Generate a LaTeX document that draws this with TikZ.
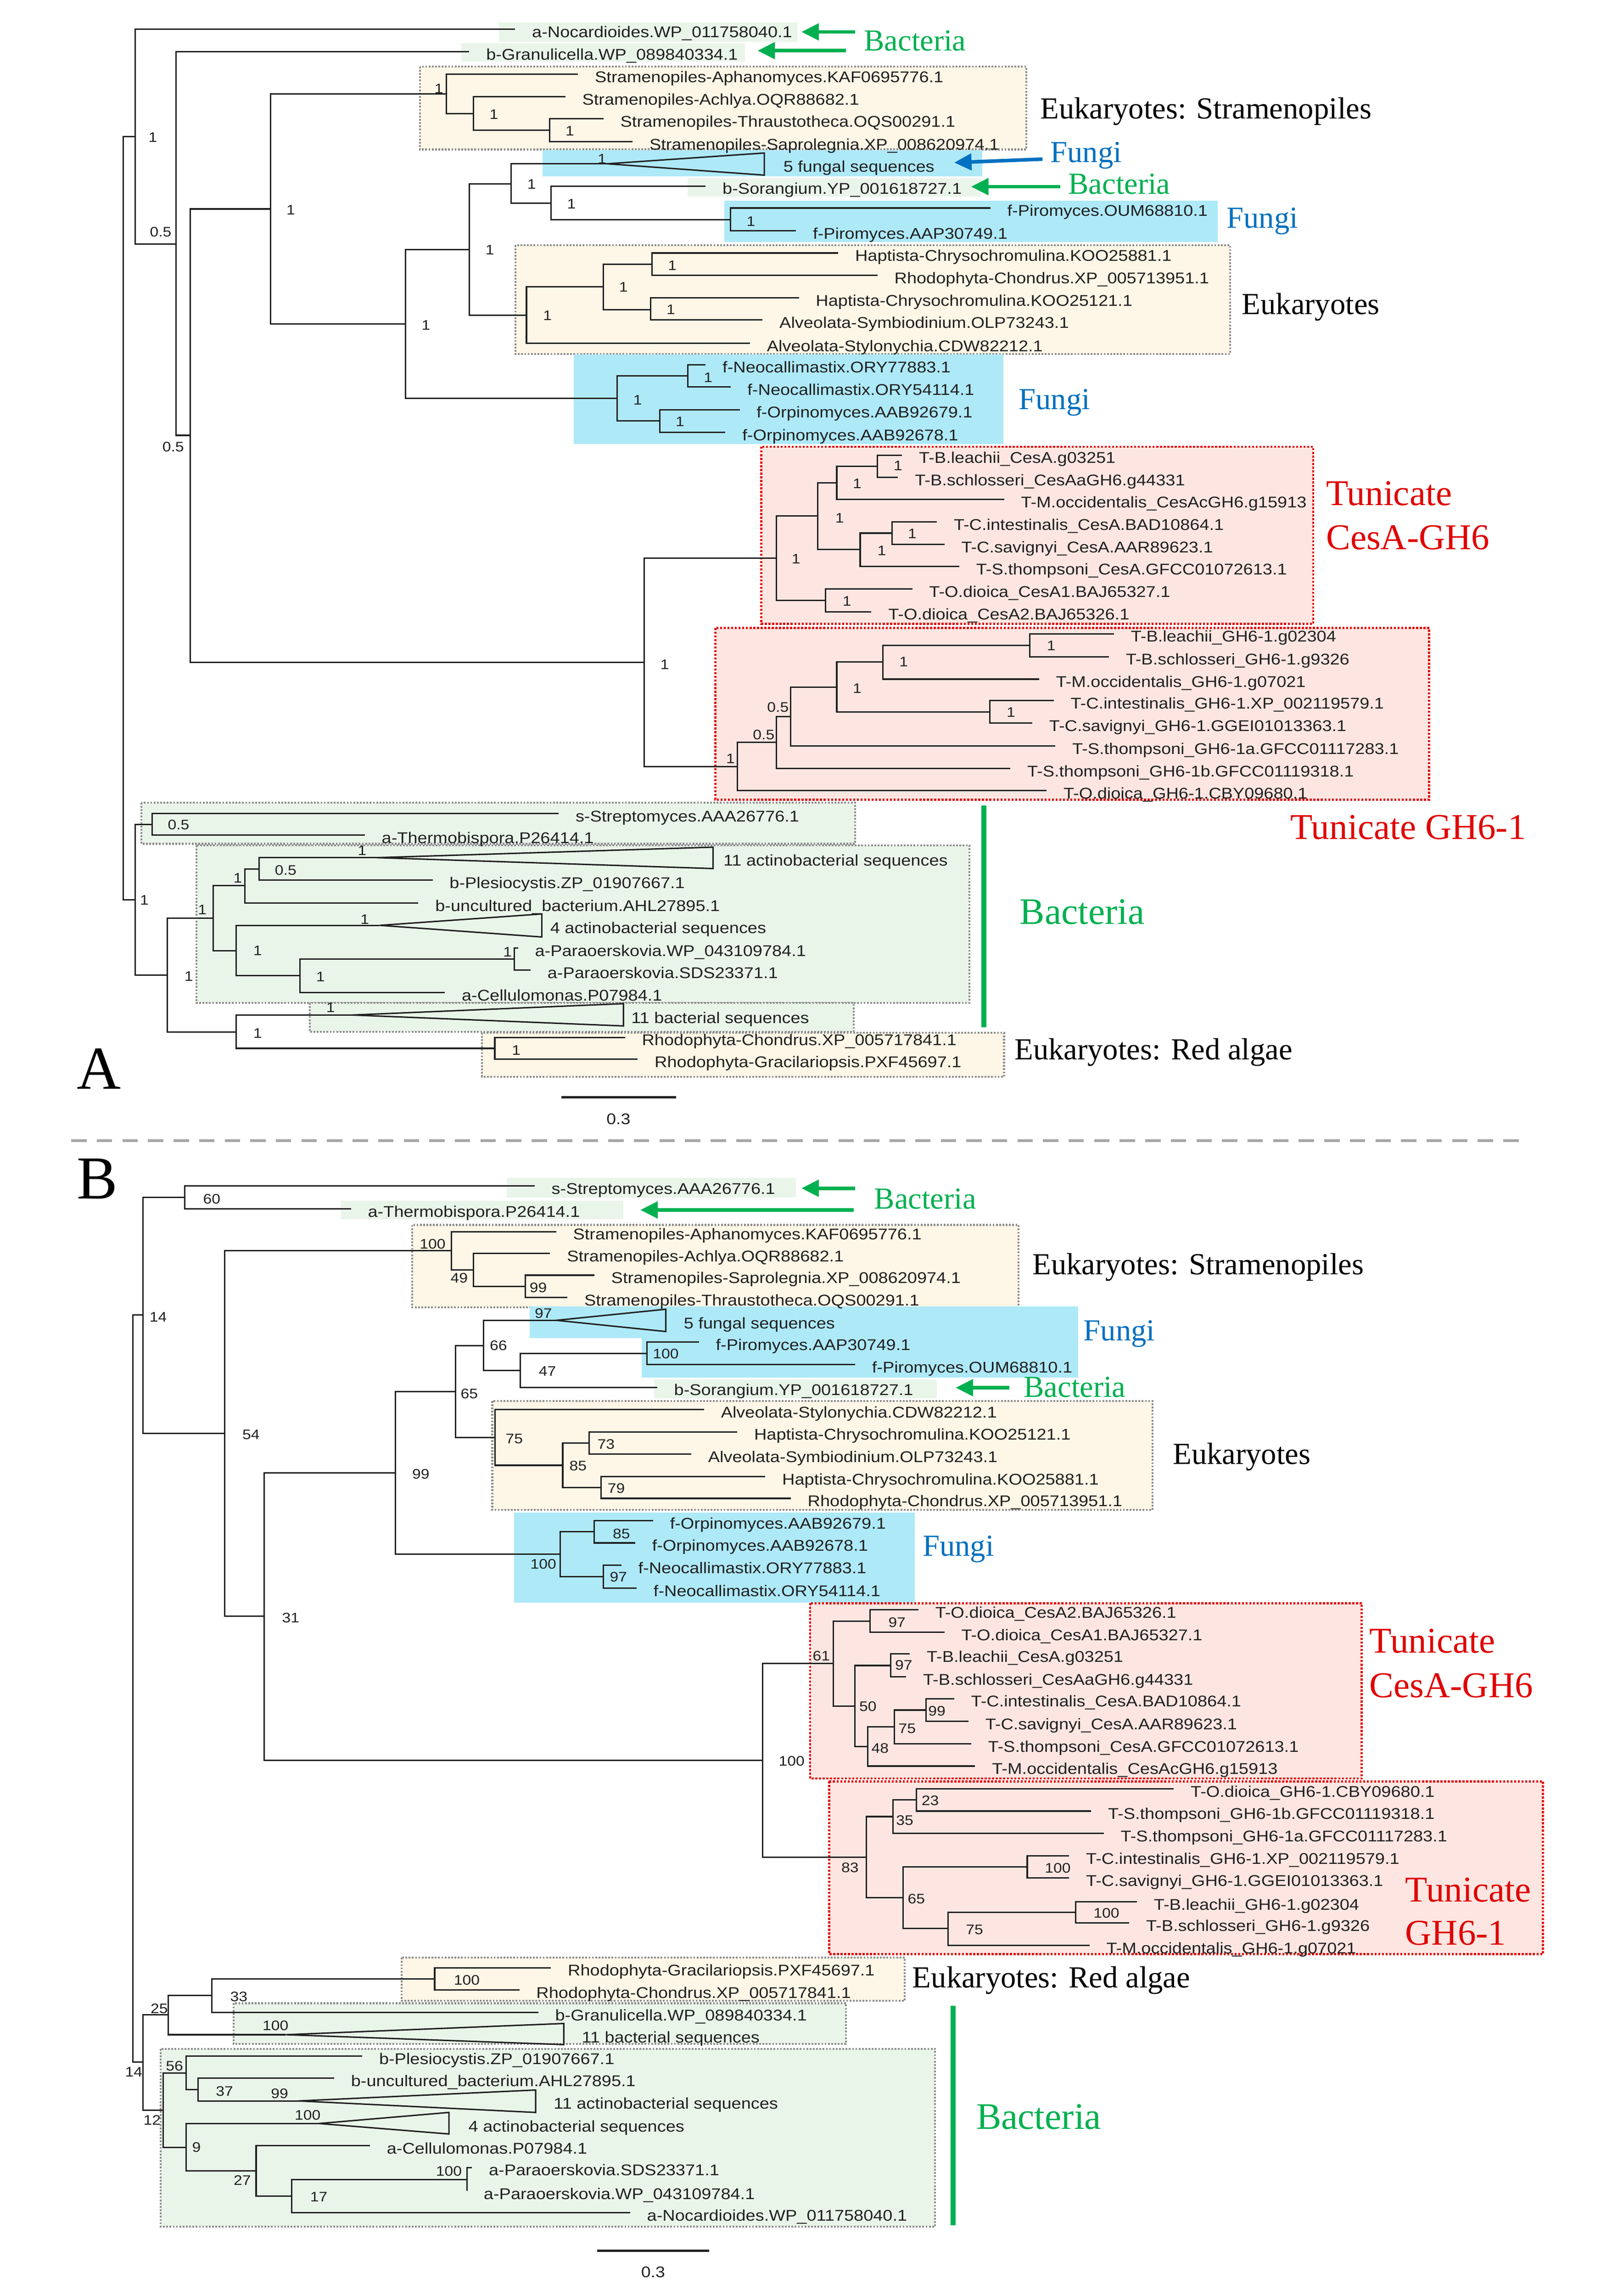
\documentclass[tikz,border=0pt]{standalone}
\usepackage{fontspec}
\setmainfont{Liberation Serif}
\newfontfamily\leaffam[FakeStretch=1.12]{Liberation Sans}
\usetikzlibrary{arrows.meta}
\definecolor{cyel}{HTML}{FEF6E6}
\definecolor{cgrn}{HTML}{EAF5EA}
\definecolor{cblu}{HTML}{AEE9F8}
\definecolor{cpnk}{HTML}{FDE6E1}
\definecolor{tgrn}{HTML}{00B050}
\definecolor{tblu}{HTML}{0070C0}
\definecolor{tred}{HTML}{E00000}
\definecolor{ink}{HTML}{202020}
\definecolor{dotc}{HTML}{8C8C8C}
\newcommand\leafsize{\leaffam\fontsize{15.2pt}{18pt}\selectfont}
\newcommand\supsize{\leaffam\fontsize{13.5pt}{16pt}\selectfont}
\newcommand\bigsize{\fontsize{29.9pt}{32pt}\selectfont}
\newcommand\tunsize{\fontsize{35.5pt}{38pt}\selectfont}
\newcommand\bacsize{\fontsize{36.6pt}{39pt}\selectfont}
\newcommand\pansize{\fontsize{59.7pt}{62pt}\selectfont}
\tikzset{
  br/.style={line width=1.4pt, draw=ink},
  lab0/.style={font=\leafsize, anchor=base west, inner sep=0pt, yshift=-0.28cm, text=ink},
  lab/.style={lab0, xshift=0.575cm},
  sup/.style={font=\supsize, inner sep=0pt, text=ink},
  dotgray/.style={draw=dotc, line width=1.9pt, dash pattern=on 1.7pt off 1.5pt},
  ybox/.style={fill=cyel, dotgray},
  gbox/.style={fill=cgrn, dotgray},
  gfill/.style={fill=cgrn, draw=none},
  bfill/.style={fill=cblu, draw=none},
  pbox/.style={fill=cpnk, draw=tred, line width=2.2pt, dash pattern=on 2pt off 1.6pt},
  big/.style={anchor=west, inner sep=0pt, font=\bigsize},
  garr/.style={draw=tgrn, line width=3.5pt, -{Triangle[length=17pt,width=16pt]}},
  barr/.style={draw=tblu, line width=3.5pt, -{Triangle[length=17pt,width=16pt]}},
  gbar/.style={draw=tgrn, line width=5pt},
  scalebar/.style={draw=ink, line width=2.2pt},
}
\newcommand\Int[4]{\coordinate (#1) at (#3,#4); \draw[br] (#2) |- (#1);}
\newcommand\Leaf[5]{\coordinate (#1) at (#3,#4); \draw[br] (#2) |- (#1); \node[lab] (#1t) at (#1) {#5};}
\newcommand\Tri[9]{\coordinate (#1) at (#3,#4); \draw[br] (#2) |- (#1);
  \coordinate (#1u) at (#5,#6); \coordinate (#1d) at (#5,#7);
  \draw[br] (#1) -- (#1u) -- (#1d) -- cycle; \node[lab0] (#1t) at (#8,#4) {#9};}
\newcommand\Sup[4]{\node[sup] (#1) at (#2,#3) {#4};}
\begin{document}
\begin{tikzpicture}[x=0.05cm, y=-0.05cm]
\fill[white] (0,0) rectangle (1100,1577.1);
\useasboundingbox (0,0) rectangle (1100,1577.1);

%================ PANEL A: boxes ================
\path[gfill] (343,15.6) rectangle (548,28.7);
\path[gfill] (317,29.6) rectangle (512,42.4);
\path[ybox] (288.5,45.7) rectangle (705.2,102.7);
\path[bfill] (372.7,103.2) rectangle (675,121.2);
\path[gfill] (472.6,122.4) rectangle (674.3,135);
\path[bfill] (497.8,137.7) rectangle (836.8,166.2);
\path[ybox] (354.1,168.4) rectangle (845.2,243.1);
\path[bfill] (394.4,243.6) rectangle (689.4,304.9);
\path[pbox] (523.1,306.9) rectangle (902.4,428.4);
\path[pbox] (491.5,431.4) rectangle (982.1,549.2);
\path[gbox] (97.1,551.3) rectangle (587.6,579.6);
\path[gbox] (135,580.6) rectangle (666.2,688.9);
\path[gbox] (212.8,688.9) rectangle (586.6,708.8);
\path[ybox] (331.3,709.3) rectangle (690,739.6);

%================ PANEL A: tree ================
\coordinate (rA) at (84.8,356);
\Int{N1}{rA}{92.9}{93.8}
\Leaf{Noc}{N1}{354}{20}{a-Nocardioides.WP\_011758040.1}
\Int{N2}{N1}{121}{167.6}
\Leaf{Gra}{N2}{322.5}{35.5}{b-Granulicella.WP\_089840334.1}
\Int{N3}{N2}{130.8}{299}
\Int{N4}{N3}{185.8}{143.5}
\Int{ST1}{N4}{306.8}{64.4}
\Leaf{Aph}{ST1}{397.2}{50.9}{Stramenopiles-Aphanomyces.KAF0695776.1}
\Int{ST2}{ST1}{325.3}{78}
\Leaf{Ach}{ST2}{388.5}{66.5}{Stramenopiles-Achlya.OQR88682.1}
\Int{ST3}{ST2}{377.6}{89.5}
\Leaf{Thr}{ST3}{414.7}{81.6}{Stramenopiles-Thraustotheca.OQS00291.1}
\Leaf{Sap}{ST3}{434.7}{97.3}{Stramenopiles-Saprolegnia.XP\_008620974.1}
\Int{N5}{N4}{278.7}{222.4}
\Int{N6}{N5}{322.5}{171.3}
\Int{N7}{N6}{351.3}{126.2}
\Tri{FuA}{N7}{417.2}{112.5}{525.2}{105.1}{120.3}{538.2}{5 fungal sequences}
\Int{N8}{N7}{378.6}{139.6}
\Leaf{SorA}{N8}{484.9}{127.8}{b-Sorangium.YP\_001618727.1}
\Int{PiA}{N8}{502}{150.8}
\Leaf{PiOA}{PiA}{680.6}{142.9}{f-Piromyces.OUM68810.1}
\Leaf{PiAA}{PiA}{547}{158.5}{f-Piromyces.AAP30749.1}
\Int{E1}{N6}{361.8}{216.5}
\Int{E2}{E1}{414.7}{197.1}
\Int{E3}{E2}{448}{181.5}
\Leaf{HkaA}{E3}{576}{173.8}{Haptista-Chrysochromulina.KOO25881.1}
\Leaf{RchA}{E3}{603}{189.2}{Rhodophyta-Chondrus.XP\_005713951.1}
\Int{E4}{E2}{447}{212.7}
\Leaf{HkbA}{E4}{549}{204.5}{Haptista-Chrysochromulina.KOO25121.1}
\Leaf{AsyA}{E4}{524}{219.8}{Alveolata-Symbiodinium.OLP73243.1}
\Leaf{AstA}{E1}{515.4}{235.7}{Alveolata-Stylonychia.CDW82212.1}
\Int{F1}{N5}{424.2}{273.7}
\Int{F2}{F1}{472.6}{258.2}
\Leaf{NeaA}{F2}{484.9}{250.5}{f-Neocallimastix.ORY77883.1}
\Leaf{NebA}{F2}{502}{265.8}{f-Neocallimastix.ORY54114.1}
\Int{F3}{F1}{453.3}{289.2}
\Leaf{OraA}{F3}{508.3}{281.4}{f-Orpinomyces.AAB92679.1}
\Leaf{OrbA}{F3}{498.5}{297}{f-Orpinomyces.AAB92678.1}
% tunicates
\Int{T0}{N3}{442.8}{455}
\Int{TC1}{T0}{533.6}{383.5}
\Int{TC2}{TC1}{562}{354.5}
\Int{TC3}{TC2}{575}{331.6}
\Int{TC4}{TC3}{603}{320.2}
\Leaf{tca}{TC4}{619.9}{312.6}{T-B.leachii\_CesA.g03251}
\Leaf{tcb}{TC4}{617.1}{327.9}{T-B.schlosseri\_CesAaGH6.g44331}
\Leaf{tcc}{TC3}{690}{343}{T-M.occidentalis\_CesAcGH6.g15913}
\Int{TC5}{TC2}{591.1}{377.5}
\Int{TC6}{TC5}{612.9}{366.2}
\Leaf{tcd}{TC6}{643.8}{358.6}{T-C.intestinalis\_CesA.BAD10864.1}
\Leaf{tce}{TC6}{649}{373.9}{T-C.savignyi\_CesA.AAR89623.1}
\Leaf{tcf}{TC5}{659.2}{389}{T-S.thompsoni\_CesA.GFCC01072613.1}
\Int{TC7}{TC1}{567.3}{412.4}
\Leaf{tcg}{TC7}{626.9}{404.6}{T-O.dioica\_CesA1.BAJ65327.1}
\Leaf{tch}{TC7}{598.8}{420.2}{T-O.dioica\_CesA2.BAJ65326.1}
\Int{TG1}{T0}{506.6}{526.5}
\Int{TG2}{TG1}{533.6}{510}
\Int{TG3}{TG2}{543.4}{492.1}
\Int{TG4}{TG3}{575}{471.9}
\Int{TG5}{TG4}{606.6}{454.8}
\Int{TG6}{TG5}{707.6}{443.2}
\Leaf{tga}{TG6}{765.5}{435.3}{T-B.leachii\_GH6-1.g02304}
\Leaf{tgb}{TG6}{762}{451.1}{T-B.schlosseri\_GH6-1.g9326}
\Leaf{tgc}{TG5}{714}{466.5}{T-M.occidentalis\_GH6-1.g07021}
\Int{TG7}{TG4}{680.3}{489}
\Leaf{tgd}{TG7}{724.1}{481.3}{T-C.intestinalis\_GH6-1.XP\_002119579.1}
\Leaf{tge}{TG7}{709.4}{496.6}{T-C.savignyi\_GH6-1.GGEI01013363.1}
\Leaf{tgf}{TG3}{725.2}{512.4}{T-S.thompsoni\_GH6-1a.GFCC01117283.1}
\Leaf{tgg}{TG2}{694.3}{527.8}{T-S.thompsoni\_GH6-1b.GFCC01119318.1}
\Leaf{tgh}{TG1}{719.2}{543}{T-O.dioica\_GH6-1.CBY09680.1}
% bacteria
\Int{B1}{rA}{92.9}{618}
\Int{SA}{B1}{104.5}{566.2}
\Leaf{StrA}{SA}{383.9}{558.7}{s-Streptomyces.AAA26776.1}
\Leaf{TheA}{SA}{250.7}{573.6}{a-Thermobispora.P26414.1}
\Int{B2}{B1}{115}{669.7}
\Int{B3}{B2}{146.5}{630.6}
\Int{B4}{B3}{168.3}{608.4}
\Int{B5}{B4}{178.1}{596.9}
\Tri{AcA}{B5}{259}{589.1}{490}{581.9}{596.6}{497}{11 actinobacterial sequences}
\Leaf{PleA}{B5}{297.3}{604.6}{b-Plesiocystis.ZP\_01907667.1}
\Leaf{UncA}{B4}{287.5}{620.2}{b-uncultured\_bacterium.AHL27895.1}
\Int{B6}{B3}{162.3}{653.1}
\Tri{Ac4A}{B6}{261}{635.6}{372.3}{627.8}{643.6}{378}{4 actinobacterial sequences}
\Int{B7}{B6}{206.1}{670}
\Int{B8}{B7}{353.4}{658.8}
\Leaf{ParaA}{B8}{356}{651.1}{a-Paraoerskovia.WP\_043109784.1}
\Leaf{ParbA}{B8}{364.6}{666.4}{a-Paraoerskovia.SDS23371.1}
\Leaf{CelA}{B7}{305.7}{681.7}{a-Cellulomonas.P07984.1}
\Int{B9}{B2}{162.3}{708.8}
\Tri{BsA}{B9}{242}{697.2}{428.4}{689.4}{704.7}{433.7}{11 bacterial sequences}
\Int{RA}{B9}{340}{720.1}
\Leaf{RhcA}{RA}{429.5}{712.6}{Rhodophyta-Chondrus.XP\_005717841.1}
\Leaf{RhgA}{RA}{438.2}{727.6}{Rhodophyta-Gracilariopsis.PXF45697.1}

% supports A
\Sup{sN1}{105}{94.5}{1}
\Sup{sN2}{110.4}{159.4}{0.5}
\Sup{sN3}{119}{306.8}{0.5}
\Sup{sN4}{199.8}{144.2}{1}
\Sup{sST1}{301.5}{60.8}{1}
\Sup{sST2}{339.4}{78.5}{1}
\Sup{sST3}{391.6}{90}{1}
\Sup{sN5}{292.7}{223.4}{1}
\Sup{sN6}{336.6}{171.7}{1}
\Sup{sN7}{365.3}{126.5}{1}
\Sup{sFuA}{413.7}{109.2}{1}
\Sup{sN8}{392.7}{140.1}{1}
\Sup{sPiA}{516}{152}{1}
\Sup{sE1}{376.2}{216.8}{1}
\Sup{sE2}{428.4}{197.1}{1}
\Sup{sE3}{462}{182.3}{1}
\Sup{sE4}{461}{212.7}{1}
\Sup{sF1}{438.2}{274.8}{1}
\Sup{sF2}{486.6}{259.2}{1}
\Sup{sF3}{467.3}{289.6}{1}
\Sup{sT0}{456.8}{456.3}{1}
\Sup{sTC1}{547}{384}{1}
\Sup{sTC2}{577}{355.8}{1}
\Sup{sTC3}{589}{332.3}{1}
\Sup{sTC4}{617.1}{320}{1}
\Sup{sTC5}{605.9}{378.3}{1}
\Sup{sTC6}{626.9}{366.5}{1}
\Sup{sTC7}{582}{412.8}{1}
\Sup{sTG1}{502}{521}{1}
\Sup{sTG2}{524.8}{504.8}{0.5}
\Sup{sTG3}{534.6}{485.9}{0.5}
\Sup{sTG4}{589}{472.8}{1}
\Sup{sTG5}{621}{454.7}{1}
\Sup{sTG6}{722.4}{443.5}{1}
\Sup{sTG7}{694.7}{489.2}{1}
\Sup{sB1}{99.2}{618.2}{1}
\Sup{sSA}{122.7}{566.6}{0.5}
\Sup{sB2}{129.7}{670.6}{1}
\Sup{sB3}{139}{624.8}{1}
\Sup{sB4}{163.4}{603.2}{1}
\Sup{sB5}{196.3}{597.7}{0.5}
\Sup{sAcA}{248.9}{584.1}{1}
\Sup{sB6}{177}{653.1}{1}
\Sup{sAc4A}{250.7}{631.5}{1}
\Sup{sB7}{220.2}{670.9}{1}
\Sup{sB8}{348.8}{653.9}{1}
\Sup{sB9}{177}{709.6}{1}
\Sup{sBsA}{227.2}{692.2}{1}
\Sup{sRA}{354.8}{721.3}{1}

% labels A
\node[big, text=tgrn] (lBacA1) at (593.6,27.9) {Bacteria};
\node[big] (lStrA) at (714.7,76.4) {Eukaryotes: Stramenopiles};
\node[big, text=tblu] (lFunA1) at (721.7,106.8) {Fungi};
\node[big, text=tgrn] (lBacA2) at (734,126.5) {Bacteria};
\node[big, text=tblu] (lFunA2) at (842.8,152) {Fungi};
\node[big] (lEukA) at (853.3,211) {Eukaryotes};
\node[big, text=tblu] (lFunA3) at (699.9,276.5) {Fungi};
\node[big, text=tred, font=\tunsize] (lTunA1) at (911.2,338.9) {Tunicate};
\node[big, text=tred, font=\tunsize] (lCesA) at (911.2,369.3) {CesA-GH6};
\node[big, text=tred, font=\tunsize] (lTunA2) at (886.6,568.3) {Tunicate GH6-1};
\node[big, text=tgrn, font=\bacsize] (lBacA3) at (700.6,626.5) {Bacteria};
\node[big] (lRedA) at (697.1,722.9) {Eukaryotes: Red algae};
\node[anchor=base west, inner sep=0pt, font=\pansize] (panA) at (52.6,747.9) {A};

% arrows A
\coordinate (aA1s) at (587.6,21.9); \coordinate (aA1e) at (550.7,21.9);
\draw[garr] (aA1s) -- (aA1e);
\coordinate (aA2s) at (581.3,34.8); \coordinate (aA2e) at (520.6,34.8);
\draw[garr] (aA2s) -- (aA2e);
\coordinate (aA3s) at (716.4,109.3); \coordinate (aA3e) at (655.7,111.7);
\draw[barr] (aA3s) -- (aA3e);
\coordinate (aA4s) at (728.7,128.2); \coordinate (aA4e) at (667.3,128.2);
\draw[garr] (aA4s) -- (aA4e);
\coordinate (gbA1) at (676.1,553.3); \coordinate (gbA2) at (676.1,705.5);
\draw[gbar] (gbA1) -- (gbA2);
% scale A
\coordinate (scA1) at (385.6,753.7); \coordinate (scA2) at (464.5,753.7);
\draw[scalebar] (scA1) -- (scA2);
\node[sup, font=\leaffam\fontsize{15pt}{17pt}\selectfont] (scAt) at (425,768.7) {0.3};

% divider
\coordinate (dv1) at (49,783.5); \coordinate (dv2) at (1044.6,783.5);
\draw[draw=gray!70, line width=2.4pt, dash pattern=on 15pt off 10pt] (dv1) -- (dv2);

%================ PANEL B: boxes ================
\path[gfill] (348.1,809) rectangle (547,822.6);
\path[gfill] (234.2,824.8) rectangle (428.4,837.4);
\path[ybox] (283.3,841.4) rectangle (699.9,898.1);
\path[bfill] (363.9,897.5) rectangle (741,919);
\path[bfill] (441,918.5) rectangle (741,946.1);
\path[gfill] (449.5,947.4) rectangle (643.8,960.5);
\path[ybox] (338.3,962.3) rectangle (791.9,1037.2);
\path[bfill] (353.4,1038.9) rectangle (628.7,1100.7);
\path[pbox] (556.7,1101.2) rectangle (935.8,1221.6);
\path[pbox] (569.7,1223.6) rectangle (1060.4,1342.2);
\path[ybox] (275.9,1344.7) rectangle (621.7,1374.2);
\path[gbox] (160.6,1376) rectangle (581.3,1404);
\path[gbox] (110.4,1407.3) rectangle (642.6,1529.4);

%================ PANEL B: tree ================
\coordinate (rB) at (91.2,1159.7);
\Int{bN1}{rB}{98.2}{903.1}
\Int{bS}{bN1}{126.9}{822.5}
\Leaf{bStr}{bS}{367.4}{814.6}{s-Streptomyces.AAA26776.1}
\Leaf{bThe}{bS}{241.2}{830.3}{a-Thermobispora.P26414.1}
\Int{bN2}{bN1}{154.3}{984.5}
\Int{bST1}{bN2}{310.3}{858.9}
\Leaf{bAph}{bST1}{382.2}{846}{Stramenopiles-Aphanomyces.KAF0695776.1}
\Int{bST2}{bST1}{325.3}{872.4}
\Leaf{bAch}{bST2}{378}{860.9}{Stramenopiles-Achlya.OQR88682.1}
\Int{bST3}{bST2}{361.1}{883.6}
\Leaf{bSap}{bST3}{408.4}{875.9}{Stramenopiles-Saprolegnia.XP\_008620974.1}
\Leaf{bThr}{bST3}{389.9}{891.2}{Stramenopiles-Thraustotheca.OQS00291.1}
\Int{bN3}{bN2}{181.6}{1110.2}
\Int{bN4}{bN3}{271.7}{1011.6}
\Int{bN5}{bN4}{313.1}{955.8}
\Int{bN6}{bN5}{332.4}{924.2}
\Tri{bFu}{bN6}{382.2}{906.9}{457.5}{899.3}{914.6}{469.8}{5 fungal sequences}
\Int{bN7}{bN6}{357.6}{941.4}
\Int{bPi}{bN7}{444.6}{929.6}
\Leaf{bPiA}{bPi}{480.3}{921.9}{f-Piromyces.AAP30749.1}
\Leaf{bPiO}{bPi}{587.6}{937.2}{f-Piromyces.OUM68810.1}
\Leaf{bSor}{bN7}{451.6}{952.9}{b-Sorangium.YP\_001618727.1}
\Int{bE1}{bN5}{340.1}{987.3}
\Leaf{bAst}{bE1}{483.8}{968.2}{Alveolata-Stylonychia.CDW82212.1}
\Int{bE2}{bE1}{386.7}{1006.5}
\Int{bE3}{bE2}{404.9}{991.2}
\Leaf{bHkb}{bE3}{506.6}{983.5}{Haptista-Chrysochromulina.KOO25121.1}
\Leaf{bAsy}{bE3}{475}{998.9}{Alveolata-Symbiodinium.OLP73243.1}
\Int{bE4}{bE2}{413}{1021.7}
\Leaf{bHka}{bE4}{525.9}{1014.2}{Haptista-Chrysochromulina.KOO25881.1}
\Leaf{bRch}{bE4}{543.4}{1029.2}{Rhodophyta-Chondrus.XP\_005713951.1}
\Int{bF1}{bN4}{385}{1067.6}
\Int{bF2}{bF1}{408.4}{1052.2}
\Leaf{bOra}{bF2}{448.8}{1044.5}{f-Orpinomyces.AAB92679.1}
\Leaf{bOrb}{bF2}{436.5}{1059.8}{f-Orpinomyces.AAB92678.1}
\Int{bF3}{bF1}{414.7}{1083}
\Leaf{bNea}{bF3}{427}{1075.2}{f-Neocallimastix.ORY77883.1}
\Leaf{bNeb}{bF3}{437.5}{1090.8}{f-Neocallimastix.ORY54114.1}
% tunicates B
\Int{bT0}{bN3}{524.1}{1209.2}
\Int{bTC1}{bT0}{572.5}{1142.6}
\Int{bTC2}{bTC1}{597.8}{1113.5}
\Leaf{btca}{bTC2}{631.1}{1105.8}{T-O.dioica\_CesA2.BAJ65326.1}
\Leaf{btcb}{bTC2}{649}{1121.1}{T-O.dioica\_CesA1.BAJ65327.1}
\Int{bTC3}{bTC1}{587.6}{1171.8}
\Int{bTC4}{bTC3}{612.2}{1144}
\Leaf{btcc}{bTC4}{625.2}{1136.1}{T-B.leachii\_CesA.g03251}
\Leaf{btcd}{bTC4}{622.7}{1151.8}{T-B.schlosseri\_CesAaGH6.g44331}
\Int{bTC5}{bTC3}{596.4}{1199.6}
\Int{bTC6}{bTC5}{614.6}{1186.1}
\Int{bTC7}{bTC6}{636.4}{1174.6}
\Leaf{btce}{bTC7}{655.7}{1166.8}{T-C.intestinalis\_CesA.BAD10864.1}
\Leaf{btcf}{bTC7}{665.5}{1182.4}{T-C.savignyi\_CesA.AAR89623.1}
\Leaf{btcg}{bTC6}{667.3}{1197.8}{T-S.thompsoni\_CesA.GFCC01072613.1}
\Leaf{btch}{bTC5}{670.1}{1213.1}{T-M.occidentalis\_CesAcGH6.g15913}
\Int{bG1}{bT0}{595.3}{1275.7}
\Int{bG2}{bG1}{613.6}{1247.8}
\Int{bG3}{bG2}{629.7}{1236.4}
\Leaf{btga}{bG3}{806.6}{1228.7}{T-O.dioica\_GH6-1.CBY09680.1}
\Leaf{btgb}{bG3}{749.8}{1244}{T-S.thompsoni\_GH6-1b.GFCC01119318.1}
\Leaf{btgc}{bG2}{758.5}{1259.4}{T-S.thompsoni\_GH6-1a.GFCC01117283.1}
\Int{bG4}{bG1}{620.6}{1303.4}
\Int{bG5}{bG4}{705.9}{1282.3}
\Leaf{btgd}{bG5}{734.7}{1274.7}{T-C.intestinalis\_GH6-1.XP\_002119579.1}
\Leaf{btge}{bG5}{734.7}{1290}{T-C.savignyi\_GH6-1.GGEI01013363.1}
\Int{bG6}{bG4}{651.5}{1324.7}
\Int{bG7}{bG6}{739.2}{1313.6}
\Leaf{btgf}{bG7}{781.3}{1306.4}{T-B.leachii\_GH6-1.g02304}
\Leaf{btgg}{bG7}{776}{1320.9}{T-B.schlosseri\_GH6-1.g9326}
\Leaf{btgh}{bG6}{748.7}{1336.2}{T-M.occidentalis\_GH6-1.g07021}
% bacteria B
\Int{bB1}{rB}{98.2}{1416.4}
\Int{bB2}{bB1}{115.7}{1384}
\Int{bB3}{bB2}{145.5}{1370.7}
\Int{bR}{bB3}{298.7}{1359.2}
\Leaf{bRhg}{bR}{378.6}{1351.6}{Rhodophyta-Gracilariopsis.PXF45697.1}
\Leaf{bRhc}{bR}{356.9}{1366.9}{Rhodophyta-Chondrus.XP\_005717841.1}
\Leaf{bGra}{bB3}{369.9}{1382.3}{b-Granulicella.WP\_089840334.1}
\Tri{bBs}{bB2}{196.3}{1397.6}{387.4}{1389.9}{1404.4}{399.7}{11 bacterial sequences}
\Int{bB4}{bB1}{112.2}{1449.6}
\Int{bB5}{bB4}{128}{1424}
\Leaf{bPle}{bB5}{248.9}{1412.4}{b-Plesiocystis.ZP\_01907667.1}
\Int{bB6}{bB5}{136}{1435.3}
\Leaf{bUnc}{bB6}{229.6}{1427.4}{b-uncultured\_bacterium.AHL27895.1}
\Tri{bAc}{bB6}{205.1}{1443.1}{368.1}{1435.6}{1451}{380.4}{11 actinobacterial sequences}
\Int{bB7}{bB4}{128}{1475}
\Tri{bAc4}{bB7}{219.1}{1458.6}{308.5}{1451}{1465.8}{321.8}{4 actinobacterial sequences}
\Int{bB8}{bB7}{176}{1491.1}
\Leaf{bCel}{bB8}{254.2}{1473.8}{a-Cellulomonas.P07984.1}
\Int{bB9}{bB8}{200.5}{1508.4}
\Int{bPa}{bB9}{320.8}{1497}
\Leaf{bParb}{bPa}{324.3}{1488.8}{a-Paraoerskovia.SDS23371.1}
\Leaf{bPara}{bPa}{320.8}{1505}{a-Paraoerskovia.WP\_043109784.1}
\Leaf{bNoc}{bB9}{433}{1519.8}{a-Nocardioides.WP\_011758040.1}

% supports B
\Sup{sbN1}{108.7}{904.7}{14}
\Sup{sbS}{145.5}{823.5}{60}
\Sup{sbN2}{172.5}{985.6}{54}
\Sup{sbST1}{297.3}{854.5}{100}
\Sup{sbST2}{315.5}{878}{49}
\Sup{sbST3}{369.9}{884.4}{99}
\Sup{sbN3}{199.8}{1111.3}{31}
\Sup{sbN4}{289.2}{1012.5}{99}
\Sup{sbN5}{322.5}{957.2}{65}
\Sup{sbN6}{342.5}{924.3}{66}
\Sup{sbFu}{373.4}{902.2}{97}
\Sup{sbN7}{376.2}{941.8}{47}
\Sup{sbPi}{457.5}{929.9}{100}
\Sup{sbE1}{353.4}{988.3}{75}
\Sup{sbE2}{397.2}{1007}{85}
\Sup{sbE3}{416.5}{992}{73}
\Sup{sbE4}{423.5}{1022.4}{79}
\Sup{sbF1}{373.4}{1074.3}{100}
\Sup{sbF2}{427}{1053.4}{85}
\Sup{sbF3}{425}{1083.2}{97}
\Sup{sbT0}{544}{1209.8}{100}
\Sup{sbTC1}{564.4}{1137.3}{61}
\Sup{sbTC2}{616.4}{1114.3}{97}
\Sup{sbTC3}{596.4}{1172.2}{50}
\Sup{sbTC4}{621}{1143.6}{97}
\Sup{sbTC5}{604.8}{1200.8}{48}
\Sup{sbTC6}{623.4}{1187.2}{75}
\Sup{sbTC7}{643.8}{1175.3}{99}
\Sup{sbG1}{584.1}{1282.9}{83}
\Sup{sbG2}{621.7}{1250.2}{35}
\Sup{sbG3}{639.2}{1236.9}{23}
\Sup{sbG4}{629.7}{1304.2}{65}
\Sup{sbG5}{726.9}{1283.2}{100}
\Sup{sbG6}{669.7}{1325.5}{75}
\Sup{sbG7}{760.3}{1314.1}{100}
\Sup{sbB1}{91.9}{1423.2}{14}
\Sup{sbB2}{109.4}{1379.7}{25}
\Sup{sbB3}{164.1}{1371.5}{33}
\Sup{sbR}{320.8}{1360.1}{100}
\Sup{sbBs}{189.3}{1391.3}{100}
\Sup{sbB4}{104.5}{1456.4}{12}
\Sup{sbB5}{119.9}{1419.2}{56}
\Sup{sbB6}{154.3}{1436.3}{37}
\Sup{sbAc}{192.1}{1438}{99}
\Sup{sbB7}{135}{1474.8}{9}
\Sup{sbAc4}{211.4}{1453}{100}
\Sup{sbB8}{166.5}{1497.7}{27}
\Sup{sbB9}{219.1}{1508.9}{17}
\Sup{sbPa}{308.5}{1491.4}{100}

% labels B
\node[anchor=base west, inner sep=0pt, font=\pansize] (panB) at (52.6,823.5) {B};
\node[big, text=tgrn] (lBacB1) at (600.6,823.5) {Bacteria};
\node[big] (lStrB) at (709.4,870.3) {Eukaryotes: Stramenopiles};
\node[big, text=tblu] (lFunB1) at (744.5,916.3) {Fungi};
\node[big, text=tgrn] (lBacB2) at (703.4,952.9) {Bacteria};
\node[big] (lEukB) at (805.9,1000.6) {Eukaryotes};
\node[big, text=tblu] (lFunB2) at (633.9,1064.1) {Fungi};
\node[big, text=tred, font=\tunsize] (lTunB1) at (941,1127.1) {Tunicate};
\node[big, text=tred, font=\tunsize] (lCesB) at (941,1157.7) {CesA-GH6};
\node[big, text=tred, font=\tunsize] (lTunB2) at (965.6,1298.2) {Tunicate};
\node[big, text=tred, font=\tunsize] (lGHB) at (965.6,1327.7) {GH6-1};
\node[big] (lRedB) at (626.9,1360.1) {Eukaryotes: Red algae};
\node[big, text=tgrn, font=\bacsize] (lBacB3) at (670.8,1453.9) {Bacteria};

% arrows B
\coordinate (aB1s) at (587.6,816.2); \coordinate (aB1e) at (550.7,816.2);
\draw[garr] (aB1s) -- (aB1e);
\coordinate (aB2s) at (586.6,831.1); \coordinate (aB2e) at (440,831.1);
\draw[garr] (aB2s) -- (aB2e);
\coordinate (aB3s) at (693.6,953.2); \coordinate (aB3e) at (656.7,953.2);
\draw[garr] (aB3s) -- (aB3e);
\coordinate (gbB1) at (655,1377.7); \coordinate (gbB2) at (655,1528.4);
\draw[gbar] (gbB1) -- (gbB2);
% scale B
\coordinate (scB1) at (410.2,1545.9); \coordinate (scB2) at (487.3,1545.9);
\draw[scalebar] (scB1) -- (scB2);
\node[sup, font=\leaffam\fontsize{15pt}{17pt}\selectfont] (scBt) at (448.8,1560.7) {0.3};
\end{tikzpicture}
\end{document}
